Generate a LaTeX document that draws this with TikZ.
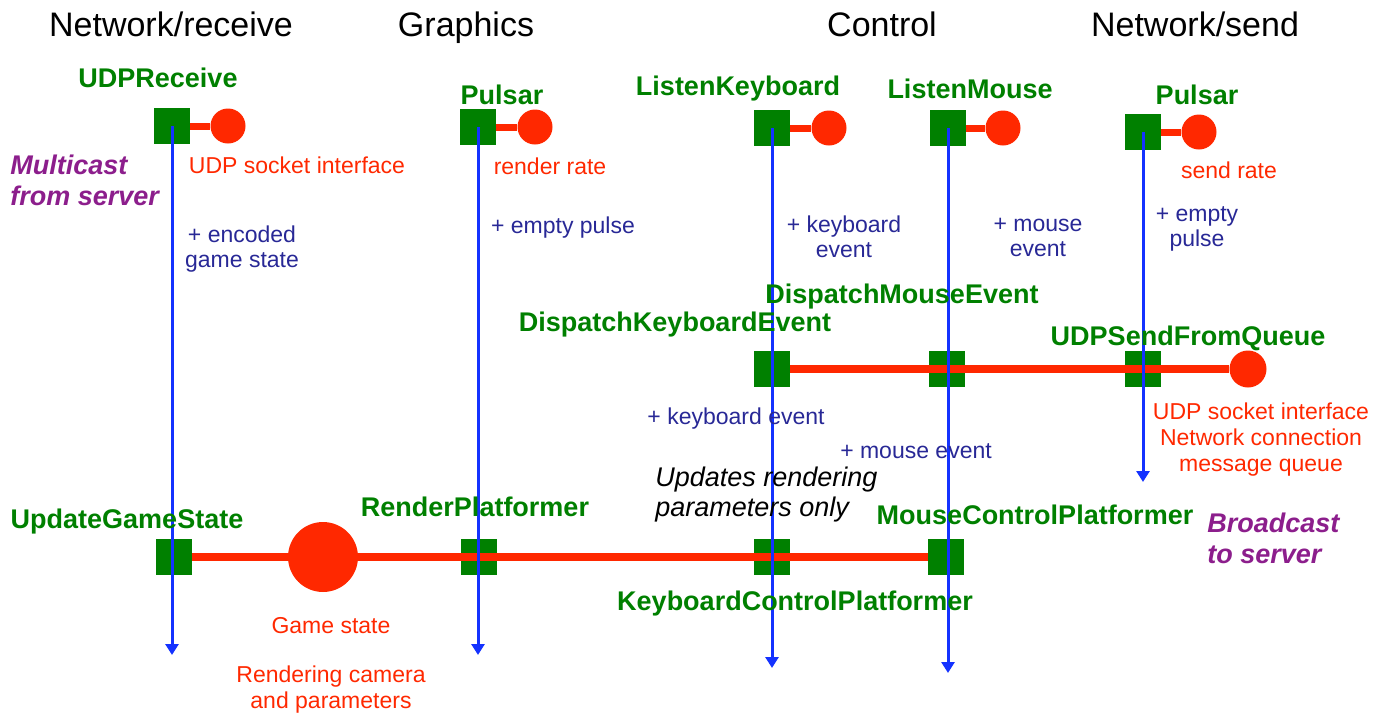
\documentclass[tikz,border=0pt]{standalone}
\usepackage{fontspec}
\setmainfont{Liberation Sans}
\usetikzlibrary{arrows.meta}

\definecolor{boxgreen}{RGB}{0,128,0}
\definecolor{busred}{RGB}{255,40,0}
\definecolor{flowblue}{RGB}{20,50,255}
\definecolor{notenavy}{RGB}{40,40,150}
\definecolor{castpurple}{RGB}{140,30,140}

\tikzset{
  comp/.style={shape=rectangle,fill=boxgreen,minimum size=18pt,inner sep=0pt},
  port/.style={shape=circle,fill=busred,minimum size=17.5pt,inner sep=0pt},
  stub/.style={draw=busred,line width=3.5pt},
  bus/.style={draw=busred,line width=4pt},
  flow/.style={draw=flowblue,line width=1.5pt,-{Triangle[width=6.5pt,length=5.5pt]}},
  compname/.style={text=boxgreen,inner sep=0pt,font=\fontsize{13.5}{16}\selectfont\bfseries},
  heading/.style={inner sep=0pt,anchor=base,font=\fontsize{17}{20}\selectfont},
  msg/.style={text=notenavy,align=center,inner sep=0pt,font=\fontsize{11.5}{12.5}\selectfont},
  shared/.style={text=busred,align=center,inner sep=0pt,font=\fontsize{11.5}{13}\selectfont},
  cast/.style={text=castpurple,align=left,inner sep=0pt,anchor=west,font=\fontsize{13.5}{15.5}\selectfont\bfseries\itshape}
}

\begin{document}
\begin{tikzpicture}[x=0.5pt,y=-0.5pt]
        \useasboundingbox (0,0) rectangle (1387,723);

        % column headings
        \node[heading] (hrecv) at (171,36) {Network/receive};
        \node[heading] (hgfx) at (466,36) {Graphics};
        \node[heading] (hctrl) at (882,36) {Control};
        \node[heading] (hsend) at (1195,36) {Network/send};

        % top row
        \node[comp] (urecv) at (172,126) {};
        \node[port] (urecvport) at (228,126) {};
        \node[comp] (gpulse) at (478,127) {};
        \node[port] (gpulseport) at (535,127) {};
        \node[comp] (lkey) at (772,128) {};
        \node[port] (lkeyport) at (829,128) {};
        \node[comp] (lmouse) at (948,128) {};
        \node[port] (lmouseport) at (1003,128) {};
        \node[comp] (spulse) at (1143,132) {};
        \node[port] (spulseport) at (1199,132) {};

        % middle row
        \node[comp] (dkey) at (772,369) {};
        \node[comp] (dmouse) at (947,369) {};
        \node[comp] (usend) at (1143,369) {};
        \node[port,minimum size=18.5pt] (usendport) at (1248,369) {};

        % bottom row
        \node[comp] (ugs) at (174,557) {};
        \node[port,minimum size=35pt] (gstate) at (323,557) {};
        \node[comp] (rplat) at (479,557) {};
        \node[comp] (kplat) at (772,557) {};
        \node[comp] (mplat) at (946,557) {};

        \coordinate (urecvend) at (172,655);
        \coordinate (gpulseend) at (478,655);
        \coordinate (lkeyend) at (772,668);
        \coordinate (lmouseend) at (948,673);
        \coordinate (spulseend) at (1143,482);

        \path [stub](urecv) edge (urecvport);
        \path [stub](gpulse) edge (gpulseport);
        \path [stub](lkey) edge (lkeyport);
        \path [stub](lmouse) edge (lmouseport);
        \path [stub](spulse) edge (spulseport);
        \path [bus](dkey) edge (usendport);
        \path [bus](ugs) edge (mplat);

        \draw [flow](urecv.center) -- (urecvend);
        \draw [flow](gpulse.center) -- (gpulseend);
        \draw [flow](lkey.center) -- (lkeyend);
        \draw [flow](lmouse.center) -- (lmouseend);
        \draw [flow](spulse.center) -- (spulseend);

        % component names
        \node[compname] (nurecv) at (158,78) {UDPReceive};
        \node[compname] (ngpulse) at (502,95) {Pulsar};
        \node[compname] (nlkey) at (738,89) {ListenKeyboard};
        \node[compname] (nlmouse) at (970,89) {ListenMouse};
        \node[compname] (nspulse) at (1197,95) {Pulsar};
        \node[compname] (ndmouse) at (902,297) {DispatchMouseEvent};
        \node[compname] (ndkey) at (675,325) {DispatchKeyboardEvent};
        \node[compname] (nusend) at (1188,338) {UDPSendFromQueue};
        \node[compname] (nugs) at (127,522) {UpdateGameState};
        \node[compname] (nrplat) at (475,507) {RenderPlatformer};
        \node[compname] (nmplat) at (1035,515) {MouseControlPlatformer};
        \node[compname] (nkplat) at (795,604) {KeyboardControlPlatformer};

        % shared state
        \node[shared] (surecv) at (297,165) {UDP socket interface};
        \node[shared] (sgpulse) at (550,166) {render rate};
        \node[shared] (sspulse) at (1229,170) {send rate};
        \node[shared] (susend) at (1261,440) {UDP socket interface\\Network connection\\message queue};
        \node[shared] (sgame) at (331,626) {Game state};
        \node[shared] (scam) at (331,690) {Rendering camera\\and parameters};

        % messages
        \node[msg] (murecv) at (242,249) {+ encoded\\game state};
        \node[msg] (mgpulse) at (563,228) {+ empty pulse};
        \node[msg] (mlkey) at (844,237) {+ keyboard\\event};
        \node[msg] (mlmouse) at (1038,237) {+ mouse\\event};
        \node[msg] (mspulse) at (1197,229) {+ empty\\pulse};
        \node[msg] (mdkey) at (736,419) {+ keyboard event};
        \node[msg] (mdmouse) at (916,451) {+ mouse event};

        % notes
        \node[cast] (multi) at (10,180) {Multicast\\from server};
        \node[cast] (bcast) at (1207,538) {Broadcast\\to server};
        \node[align=left,anchor=west,inner sep=0pt,font=\fontsize{13.5}{15}\selectfont\itshape] (upd) at (655,495) {Updates rendering\\parameters only};
\end{tikzpicture}
\end{document}
